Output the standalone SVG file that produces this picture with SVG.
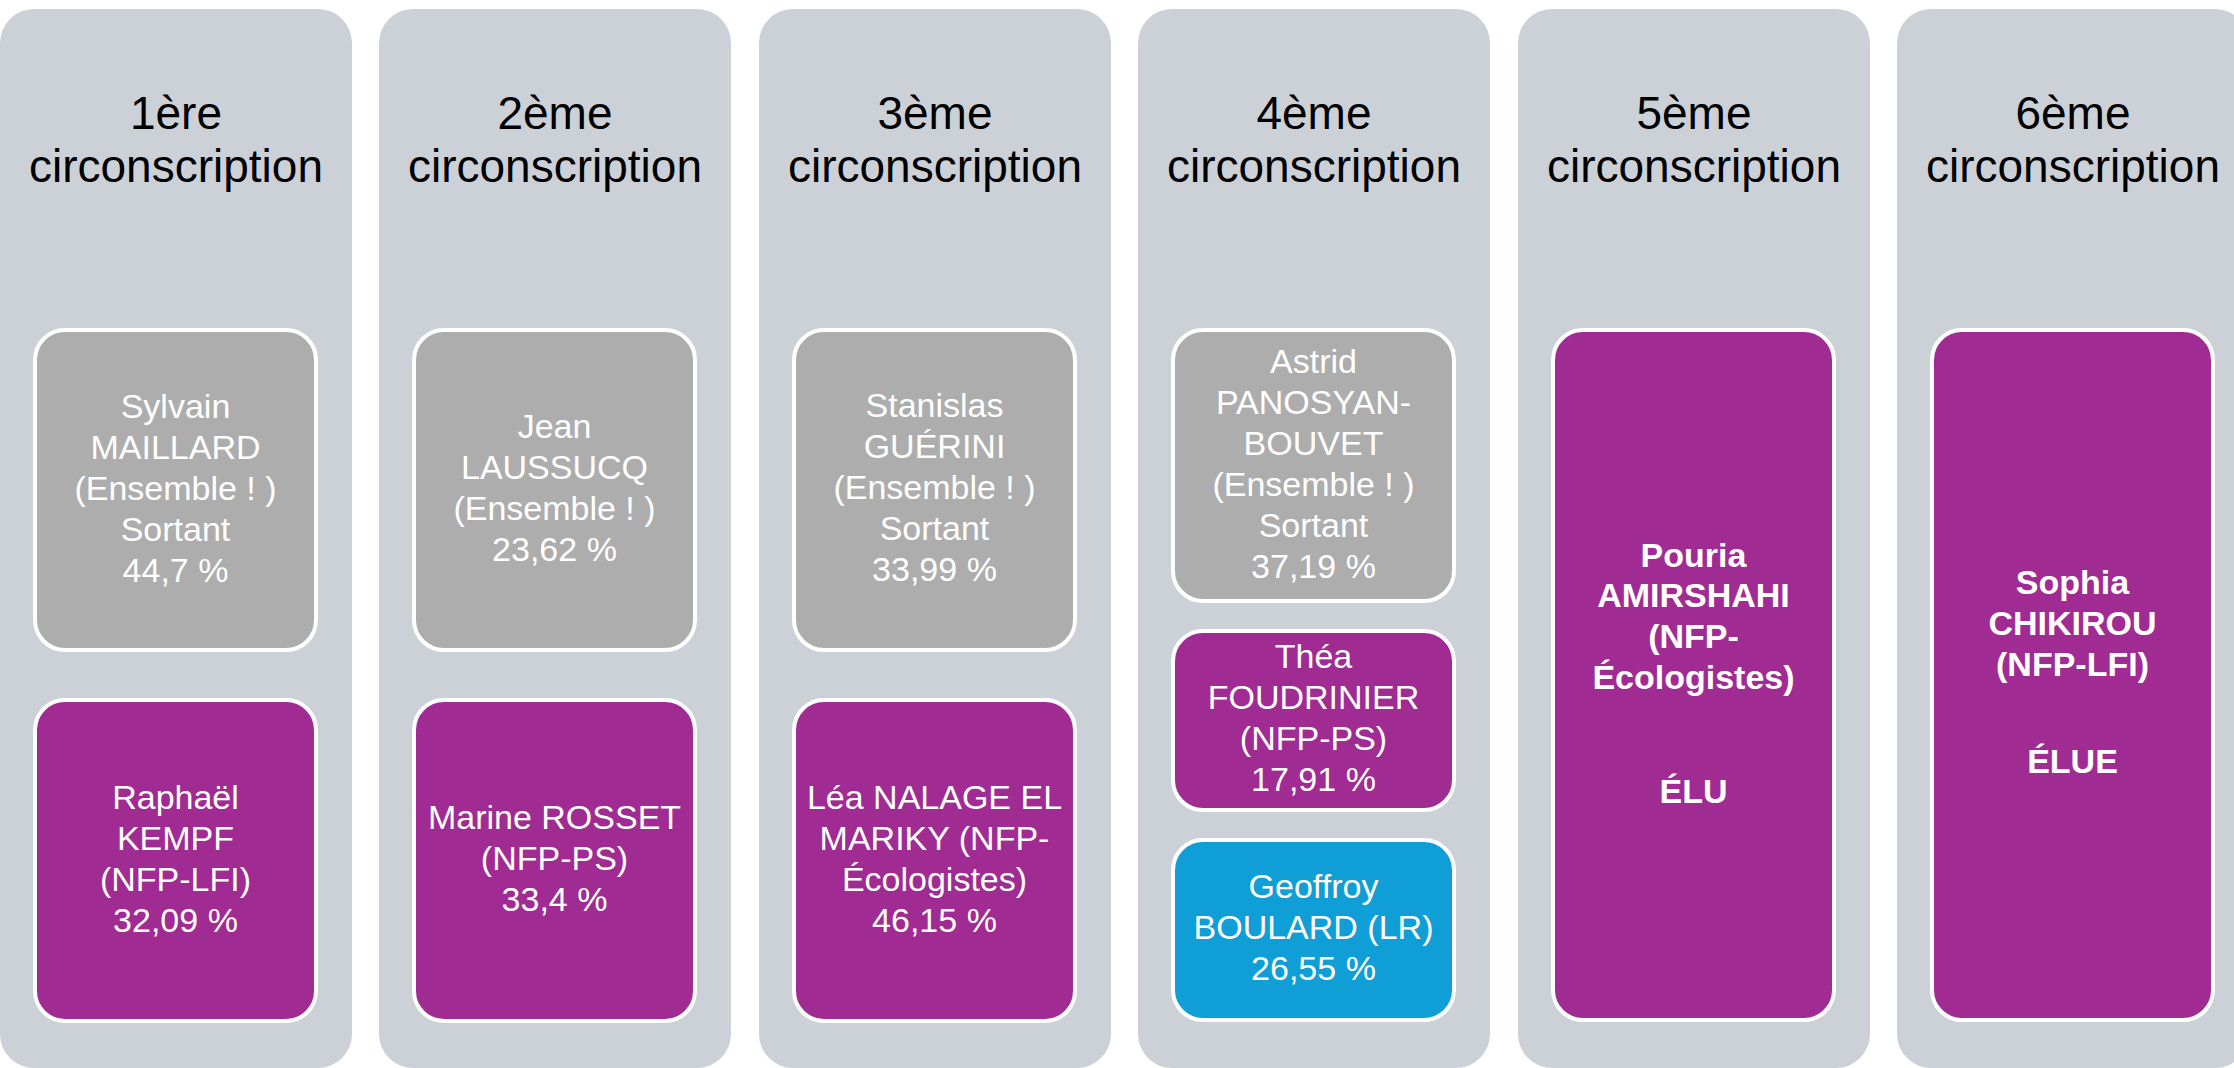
<svg xmlns="http://www.w3.org/2000/svg" width="2234" height="1068" viewBox="0 0 2234 1068">
<style>
.col{fill:#CCD1D8}
.box{stroke:#FFFFFF;stroke-width:4}
.gray{fill:#ADADAD}
.purple{fill:#A02B93}
.blue{fill:#0F9ED5}
text{font-family:"Liberation Sans",Arial,sans-serif;text-anchor:middle}
.hd{font-size:46px;fill:#000000}
.t{font-size:34px;fill:#FFFFFF}
.b{font-weight:bold}
</style>
<rect width="2234" height="1068" fill="#FFFFFF"/>
<g id="connectors"></g>

<g id="col1">
<rect class="col" x="0" y="9" width="352" height="1059" rx="34"/>
<text class="hd"><tspan x="176" y="129">1ère</tspan><tspan x="176" y="182">circonscription</tspan></text>
</g>
<g id="col1-maillard">
<rect class="box gray" x="35" y="330" width="281" height="320" rx="30"/>
<text class="t"><tspan x="175.5" y="418">Sylvain</tspan><tspan x="175.5" y="459">MAILLARD</tspan><tspan x="175.5" y="500">(Ensemble ! )</tspan><tspan x="175.5" y="541">Sortant</tspan><tspan x="175.5" y="582">44,7 %</tspan></text>
</g>
<g id="col1-kempf">
<rect class="box purple" x="35" y="700" width="281" height="321" rx="30"/>
<text class="t"><tspan x="175.5" y="809">Raphaël</tspan><tspan x="175.5" y="850">KEMPF</tspan><tspan x="175.5" y="891">(NFP-LFI)</tspan><tspan x="175.5" y="932">32,09 %</tspan></text>
</g>

<g id="col2">
<rect class="col" x="379" y="9" width="352" height="1059" rx="34"/>
<text class="hd"><tspan x="555" y="129">2ème</tspan><tspan x="555" y="182">circonscription</tspan></text>
</g>
<g id="col2-laussucq">
<rect class="box gray" x="414" y="330" width="281" height="320" rx="30"/>
<text class="t"><tspan x="554.5" y="438">Jean</tspan><tspan x="554.5" y="479">LAUSSUCQ</tspan><tspan x="554.5" y="520">(Ensemble ! )</tspan><tspan x="554.5" y="561">23,62 %</tspan></text>
</g>
<g id="col2-rosset">
<rect class="box purple" x="414" y="700" width="281" height="321" rx="30"/>
<text class="t"><tspan x="554.5" y="829">Marine ROSSET</tspan><tspan x="554.5" y="870">(NFP-PS)</tspan><tspan x="554.5" y="911">33,4 %</tspan></text>
</g>

<g id="col3">
<rect class="col" x="759" y="9" width="352" height="1059" rx="34"/>
<text class="hd"><tspan x="935" y="129">3ème</tspan><tspan x="935" y="182">circonscription</tspan></text>
</g>
<g id="col3-guerini">
<rect class="box gray" x="794" y="330" width="281" height="320" rx="30"/>
<text class="t"><tspan x="934.5" y="417">Stanislas</tspan><tspan x="934.5" y="458">GUÉRINI</tspan><tspan x="934.5" y="499">(Ensemble ! )</tspan><tspan x="934.5" y="540">Sortant</tspan><tspan x="934.5" y="581">33,99 %</tspan></text>
</g>
<g id="col3-nalage">
<rect class="box purple" x="794" y="700" width="281" height="321" rx="30"/>
<text class="t"><tspan x="934.5" y="809">Léa NALAGE EL</tspan><tspan x="934.5" y="850">MARIKY (NFP-</tspan><tspan x="934.5" y="891">Écologistes)</tspan><tspan x="934.5" y="932">46,15 %</tspan></text>
</g>

<g id="col4">
<rect class="col" x="1138" y="9" width="352" height="1059" rx="34"/>
<text class="hd"><tspan x="1314" y="129">4ème</tspan><tspan x="1314" y="182">circonscription</tspan></text>
</g>
<g id="col4-panosyan">
<rect class="box gray" x="1173" y="330" width="281" height="271" rx="30"/>
<text class="t"><tspan x="1313.5" y="373">Astrid</tspan><tspan x="1313.5" y="414">PANOSYAN-</tspan><tspan x="1313.5" y="455">BOUVET</tspan><tspan x="1313.5" y="496">(Ensemble ! )</tspan><tspan x="1313.5" y="537">Sortant</tspan><tspan x="1313.5" y="578">37,19 %</tspan></text>
</g>
<g id="col4-foudrinier">
<rect class="box purple" x="1173" y="631" width="281" height="179" rx="30"/>
<text class="t"><tspan x="1313.5" y="668">Théa</tspan><tspan x="1313.5" y="709">FOUDRINIER</tspan><tspan x="1313.5" y="750">(NFP-PS)</tspan><tspan x="1313.5" y="791">17,91 %</tspan></text>
</g>
<g id="col4-boulard">
<rect class="box blue" x="1173" y="840" width="281" height="180" rx="30"/>
<text class="t"><tspan x="1313.5" y="898">Geoffroy</tspan><tspan x="1313.5" y="939">BOULARD (LR)</tspan><tspan x="1313.5" y="980">26,55 %</tspan></text>
</g>

<g id="col5">
<rect class="col" x="1518" y="9" width="352" height="1059" rx="34"/>
<text class="hd"><tspan x="1694" y="129">5ème</tspan><tspan x="1694" y="182">circonscription</tspan></text>
</g>
<g id="col5-amirshahi">
<rect class="box purple" x="1553" y="330" width="281" height="690" rx="30"/>
<text class="t b"><tspan x="1693.5" y="567">Pouria</tspan><tspan x="1693.5" y="607">AMIRSHAHI</tspan><tspan x="1693.5" y="648">(NFP-</tspan><tspan x="1693.5" y="689">Écologistes)</tspan><tspan x="1693.5" y="803">ÉLU</tspan></text>
</g>

<g id="col6">
<rect class="col" x="1897" y="9" width="352" height="1059" rx="34"/>
<text class="hd"><tspan x="2073" y="129">6ème</tspan><tspan x="2073" y="182">circonscription</tspan></text>
</g>
<g id="col6-chikirou">
<rect class="box purple" x="1932" y="330" width="281" height="690" rx="30"/>
<text class="t b"><tspan x="2072.5" y="594">Sophia</tspan><tspan x="2072.5" y="635">CHIKIROU</tspan><tspan x="2072.5" y="676">(NFP-LFI)</tspan><tspan x="2072.5" y="773">ÉLUE</tspan></text>
</g>
</svg>
